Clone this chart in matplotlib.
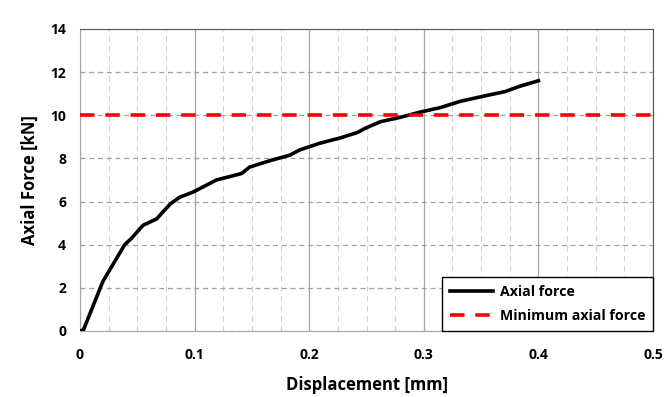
import numpy as np
import matplotlib.pyplot as plt
from matplotlib.ticker import MultipleLocator

# displacement [mm] and axial force [kN]
disp = [0.0, 0.003, 0.02, 0.039, 0.045, 0.055, 0.067, 0.072, 0.079, 0.087, 0.099,
        0.119, 0.141, 0.148, 0.166, 0.183, 0.192, 0.209, 0.227, 0.242, 0.249,
        0.262, 0.279, 0.297, 0.314, 0.332, 0.349, 0.371, 0.384, 0.400]
force = [0.0, 0.05, 2.3, 4.0, 4.3, 4.9, 5.2, 5.5, 5.9, 6.2, 6.45,
         7.0, 7.3, 7.6, 7.9, 8.15, 8.4, 8.7, 8.95, 9.2, 9.4,
         9.7, 9.9, 10.15, 10.35, 10.65, 10.85, 11.1, 11.35, 11.6]
min_force = 10

plt.rcParams['font.family'] = ['Open Sans', 'DejaVu Sans']
plt.rcParams['font.weight'] = 'bold'

fig = plt.figure(figsize=(6.72, 3.97), dpi=100)
ax = fig.add_axes([80/672, 1-331/397, 573/672, 302/397])

ax.plot(disp, force, color='black', lw=2.6, label='Axial force', zorder=3)
ax.axhline(min_force, color='red', lw=2.6, ls=(0, (4, 3)), label='Minimum axial force', zorder=3)

ax.set_xlim(0, 0.5)
ax.set_ylim(0, 14)
ax.xaxis.set_major_locator(MultipleLocator(0.1))
ax.xaxis.set_minor_locator(MultipleLocator(0.025))
ax.yaxis.set_major_locator(MultipleLocator(2))
ax.set_xticks([0, 0.1, 0.2, 0.3, 0.4, 0.5], ['0', '0.1', '0.2', '0.3', '0.4', '0.5'])

ax.grid(which='major', axis='x', color='#a6a6a6', lw=0.9)
ax.grid(which='minor', axis='x', color='#d0d0d0', lw=0.8, ls=(0, (5, 4)))
ax.grid(which='major', axis='y', color='#a0a0a0', lw=0.9, ls=(0, (4, 3)))
ax.tick_params(which='both', length=0, labelsize=10, pad=12)
ax.tick_params(axis='y', pad=10)
for lab in ax.get_xticklabels() + ax.get_yticklabels():
    lab.set_fontweight('bold')

for s in ['top', 'right']:
    ax.spines[s].set_color('#555555')
for s in ['left', 'bottom']:
    ax.spines[s].set_color('#a6a6a6')

ax.set_xlabel('Displacement [mm]', fontsize=12, fontweight='bold', labelpad=10)
ax.set_ylabel('Axial Force [kN]', fontsize=12, fontweight='bold', labelpad=8)

leg = ax.legend(loc='lower right', fancybox=False, framealpha=1,
                edgecolor='black', borderaxespad=0, handlelength=3.0,
                borderpad=0.55, labelspacing=0.75, handletextpad=0.5,
                prop={'weight': 'bold', 'size': 10.2})
leg.get_frame().set_linewidth(1.0)

fig.savefig('out.png', dpi=100)
